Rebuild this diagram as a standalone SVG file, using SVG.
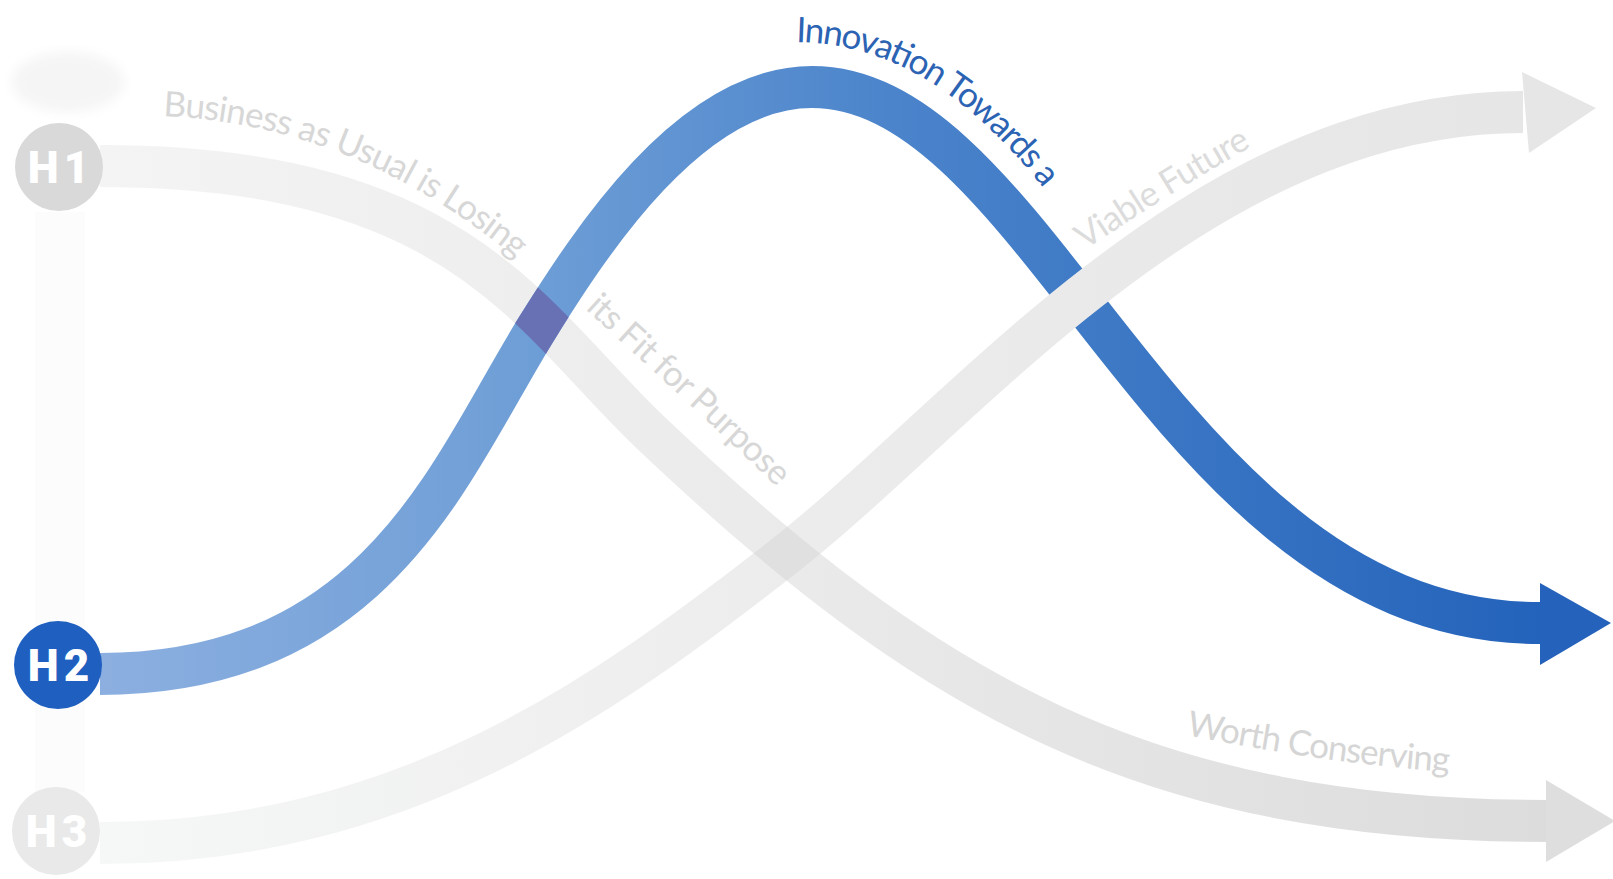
<svg xmlns="http://www.w3.org/2000/svg" width="1613" height="879" viewBox="0 0 1613 879">
  <style>
    .band { fill: none; stroke-width: 42; stroke-linecap: butt; }
    .lbl { font-family: Lato, "Liberation Sans", sans-serif; font-size: 35px; }
    .grey { fill: #d7d7d7; }
    .node-text { font-family: Roboto, "Liberation Sans", sans-serif; font-weight: 900; font-size: 44px; fill: #ffffff; text-anchor: middle; letter-spacing: 5px; }
  </style>
  <defs>
    <linearGradient id="gH1" gradientUnits="userSpaceOnUse" x1="100" y1="0" x2="1548" y2="0">
      <stop offset="0" stop-color="#f4f4f4"/>
      <stop offset="0.45" stop-color="#ebebeb"/>
      <stop offset="1" stop-color="#dcdcdc"/>
    </linearGradient>
    <linearGradient id="gH3" gradientUnits="userSpaceOnUse" x1="100" y1="0" x2="1523" y2="0">
      <stop offset="0" stop-color="#f6f7f7"/>
      <stop offset="0.5" stop-color="#ececec"/>
      <stop offset="1" stop-color="#e6e6e6"/>
    </linearGradient>
    <linearGradient id="gBlue" gradientUnits="userSpaceOnUse" x1="100" y1="0" x2="1540" y2="0">
      <stop offset="0" stop-color="#8cafe0"/>
      <stop offset="0.3" stop-color="#6e9ed6"/>
      <stop offset="0.55" stop-color="#4b84cb"/>
      <stop offset="1" stop-color="#2463bb"/>
    </linearGradient>
    <filter id="soft" x="-50%" y="-50%" width="200%" height="200%">
      <feGaussianBlur stdDeviation="6"/>
    </filter>
    <path id="pH1" d="M100,166 C460,166 530,318 650,432 C930,698 1150,821 1548,821"/>
    <path id="pBlue" d="M100,674 C380,674 452,464 537,328 C590,243 690,87 812,87 C1043,87 1169,623 1540,623"/>
    <path id="pH3" d="M100,843 C400,843 600,700 783,557 S1200,112 1523,112"/>
    <!-- text baselines -->
    <path id="tBiz" d="M163,116 C300,122 420,175 532,272"/>
    <path id="tFit" d="M585,309 C650,368 720,432 784,494"/>
    <path id="tWorth" d="M1186,735 C1270,752 1360,766 1452,772"/>
    <path id="tInno" d="M796,42 C880,44 960,80 1052,199"/>
    <path id="tViable" d="M1085,250 C1142,212 1202,174 1262,141"/>
    <mask id="mBlue" maskUnits="userSpaceOnUse" x="0" y="0" width="1613" height="879">
      <use href="#pBlue" fill="none" stroke="#fff" stroke-width="42"/>
    </mask>
    <mask id="mH1" maskUnits="userSpaceOnUse" x="0" y="0" width="1613" height="879">
      <use href="#pH1" fill="none" stroke="#fff" stroke-width="42"/>
    </mask>
  </defs>

  <rect width="1613" height="879" fill="#ffffff"/>
  <!-- faint background ghosts -->
  <ellipse cx="68" cy="82" rx="56" ry="30" fill="#f5f5f5" filter="url(#soft)"/>
  <rect x="35" y="212" width="50" height="580" fill="#fcfcfc"/>

  <g id="connectors">
    <use href="#pH1" class="band" stroke="url(#gH1)"/>
    <polygon points="1546,780 1615,821 1546,862" fill="#dedede"/>
    <use href="#pBlue" class="band" stroke="url(#gBlue)"/>
    <polygon points="1540,583 1611,623 1540,665" fill="#2462bb"/>
    <use href="#pH1" class="band" stroke="#6971b5" mask="url(#mBlue)"/>
    <use href="#pH3" class="band" stroke="url(#gH3)"/>
    <polygon points="1522,72 1596,108 1529,153" fill="#e6e6e6"/>
    <use href="#pH3" class="band" stroke="#e0e0e0" mask="url(#mH1)"/>
  </g>

  <g id="labels">
    <text class="lbl grey"><textPath href="#tBiz" textLength="388" lengthAdjust="spacing">Business as Usual is Losing</textPath></text>
    <text class="lbl grey"><textPath href="#tFit" textLength="262" lengthAdjust="spacing">its Fit for Purpose</textPath></text>
    <text class="lbl" fill="#d5d5d5"><textPath href="#tWorth" textLength="266" lengthAdjust="spacing">Worth Conserving</textPath></text>
    <text class="lbl" fill="#2c63b3"><textPath href="#tInno" textLength="298" lengthAdjust="spacing">Innovation Towards a</textPath></text>
    <text class="lbl" fill="#dcdcdc"><textPath href="#tViable" textLength="196" lengthAdjust="spacing">Viable Future</textPath></text>
  </g>

  <g id="node-h1">
    <circle cx="59" cy="167" r="44" fill="#d9d9d9"/>
    <text class="node-text" x="61" y="183">H1</text>
  </g>
  <g id="node-h2">
    <circle cx="58" cy="665" r="44" fill="#1f5fbf"/>
    <text class="node-text" x="61" y="681">H2</text>
  </g>
  <g id="node-h3">
    <circle cx="56" cy="831" r="44" fill="#e9e9e9"/>
    <text class="node-text" x="59" y="847">H3</text>
  </g>
</svg>
